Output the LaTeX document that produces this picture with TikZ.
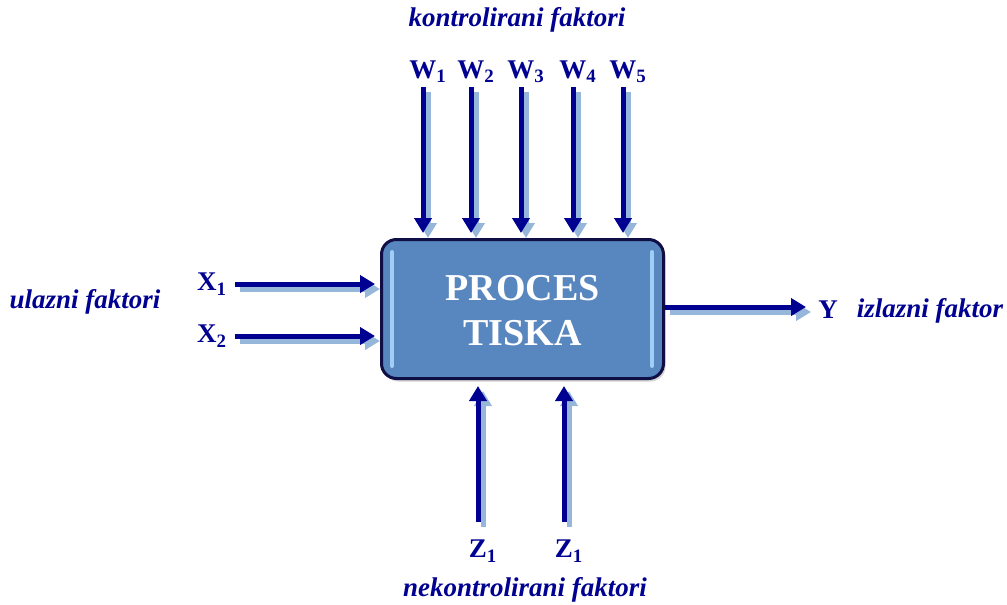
\documentclass[tikz,border=0pt]{standalone}
\usepackage{fontspec}
\setmainfont{Liberation Serif}
\usetikzlibrary{arrows.meta,shadows}
\definecolor{dblue}{RGB}{0,0,145}
\definecolor{sblue}{RGB}{150,182,218}
\definecolor{boxblue}{RGB}{88,134,190}
\definecolor{hiblue}{RGB}{160,205,245}
\definecolor{rub}{RGB}{15,15,70}
\tikzset{
	faktor/.style={font=\fontsize{13.5}{15}\selectfont\bfseries, text=dblue},
	opis/.style={font=\fontsize{13.5}{15}\selectfont\bfseries\itshape, text=dblue},
	tok/.style={draw=dblue, line width=2.5pt, -{Triangle[length=7.5pt,width=8.5pt]}},
	sjena/.style={draw=sblue, line width=2.5pt, -{Triangle[length=7.5pt,width=8.5pt]}},
}

\begin{document}
\begin{tikzpicture}[x=0.5pt,y=-0.5pt]
		\useasboundingbox (0,0) rectangle (1007,605);
		% blok procesa
		\node[draw=rub, fill=boxblue, line width=1.5pt, rounded corners=7.5pt,
			minimum width=141pt, minimum height=69.5pt, anchor=north west,
			drop shadow={shadow xshift=1pt, shadow yshift=-1.5pt, opacity=0.35}] (proc) at (380,238) {};
		\draw[hiblue, line width=2pt, line cap=round] ([xshift=6pt,yshift=-7pt]proc.north west) -- ([xshift=6pt,yshift=7pt]proc.south west);
		\draw[hiblue, line width=2pt, line cap=round] ([xshift=-6.5pt,yshift=-7pt]proc.north east) -- ([xshift=-6.5pt,yshift=7pt]proc.south east);
		\node[align=center, text=white, font=\fontsize{19}{22.5}\selectfont\bfseries] (proctxt) at ([yshift=-1pt]proc.center) {PROCES\\TISKA};
		% kontrolirani faktori
		\foreach \i/\xx in {1/423, 2/471, 3/521, 4/573, 5/623} {
			\coordinate (ws\i) at (\xx,87);
			\node[faktor] (w\i) at (\xx+5,72) {W\textsubscript{\i}};
			\draw[sjena] ([shift={(5,5)}]ws\i) -- ([xshift=2.5pt]ws\i |- proc.north);
			\draw[tok] (ws\i) -- ([yshift=2.5pt]ws\i |- proc.north);
		}
		\node[opis] (kontr) at (517,20) {kontrolirani faktori};
		% ulazni faktori
		\foreach \i/\yy in {1/284, 2/336} {
			\coordinate (xs\i) at (235,\yy);
			\node[faktor] (x\i) at (212,\yy) {X\textsubscript{\i}};
			\draw[sjena] ([shift={(5,5)}]xs\i) -- ([yshift=-2.5pt]xs\i -| proc.west);
			\draw[tok] (xs\i) -- ([xshift=-2.5pt]xs\i -| proc.west);
		}
		\node[opis] (ulaz) at (85,302) {ulazni faktori};
		% izlazni faktor
		\coordinate (ye) at (806,307);
		\draw[sjena] ([shift={(5,5)}]proc.east |- ye) -- ([shift={(5,5)}]ye);
		\draw[tok] (proc.east |- ye) -- (ye);
		\node[faktor] (y) at (828,310) {Y};
		\node[opis] (izlaz) at (930,311) {izlazni faktor};
		% nekontrolirani faktori
		\foreach \i/\xx in {1/478, 2/564} {
			\coordinate (zs\i) at (\xx,522);
			\node[faktor] (z\i) at (\xx+5,551) {Z\textsubscript{1}};
			\draw[sjena] ([shift={(5,5)}]zs\i) -- ([shift={(5,11)}]zs\i |- proc.south);
			\draw[tok] (zs\i) -- ([yshift=-3pt]zs\i |- proc.south);
		}
		\node[opis] (nekontr) at (525,590) {nekontrolirani faktori};
	\end{tikzpicture}
\end{document}
